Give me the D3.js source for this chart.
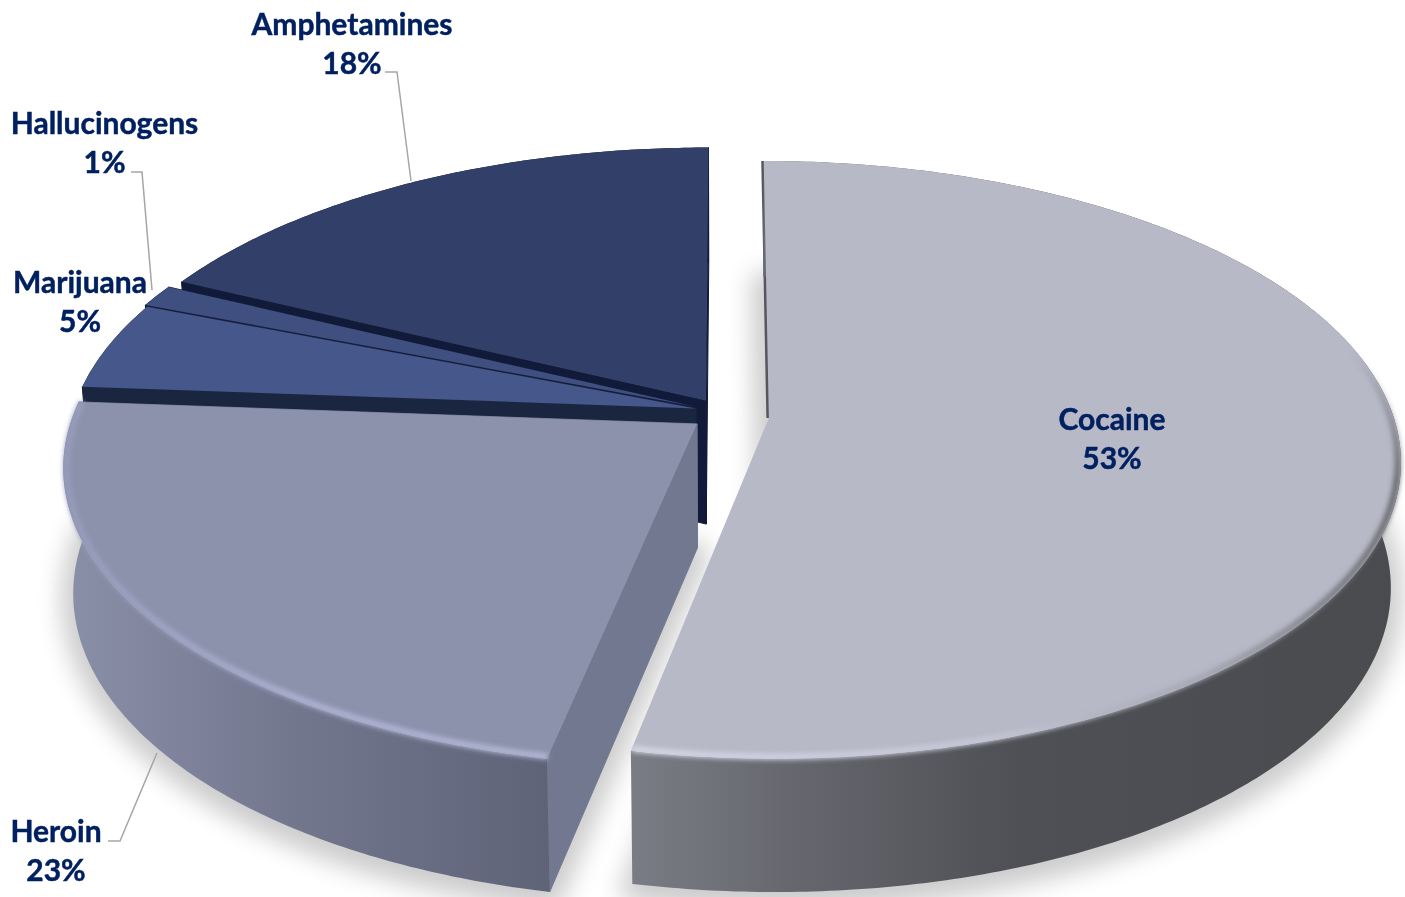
<!DOCTYPE html>
<html><head><meta charset="utf-8">
<script src="https://cdn.jsdelivr.net/npm/d3@7/dist/d3.min.js"></script>
<style>html,body{margin:0;padding:0;background:#fff;overflow:hidden}svg{display:block}
text{font-family:Lato,"Open Sans",sans-serif;font-weight:700;fill:#002060;stroke:#002060;stroke-width:.45px;font-size:30px;text-anchor:middle}</style>
</head><body><script>
// ---- data ----
const categories = ["Cocaine","Heroin","Marijuana","Hallucinogens","Amphetamines"];
const shares = [53.2,23,4.8,1.2,17.8];
// ---- styling / layout (not data) ----
const faceColors = ["#b8b9c7","#8c92ac","#45578b","#3e4f80","#313f69"];
const sideColors = ["#56575c","#727890","#1a2540","#141d3a","#111a38"];
const explodeU = [0.067,-0.048,-0.05,-0.054,-0.034];
const explodeV = [0,-0.02,0.033,0.04,0.06];
const labelX = [1112,56,80,104.5,352];
const labelY = [430,842,293,134,35];
const leaders = [null,[[108,841],[120,841],[157,753]],null,[[131,172],[142,172],[152,290]],[[385,72],[397,72],[411,181]]];
const W=1405,H=897;
const X0=727,Y0=418,A=625,B=293,P=0.14,DEPTH=124,DEPTHP=0.07,SHRINK=0.015;

const svg=d3.select("body").append("svg").attr("width",W).attr("height",H);
const defs=svg.append("defs");
const grad=(id,x1,x2,stops,vertical)=>{const g=defs.append("linearGradient").attr("id",id).attr("gradientUnits","userSpaceOnUse");
  if(vertical) g.attr("x1",0).attr("x2",0).attr("y1",x1).attr("y2",x2);
  else g.attr("x1",x1).attr("x2",x2).attr("y1",0).attr("y2",0);
  stops.forEach(s=>g.append("stop").attr("offset",s[0]).attr("stop-color",s[1]));};
grad("wall0",633,1400,[[0,"#7a7c85"],[.2,"#67686f"],[.5,"#4f5055"],[1,"#4a4b4f"]]);
grad("wall1",62,550,[[0,"#8b90a9"],[.5,"#71768d"],[1,"#5f6378"]]);
grad("bev0",633,1398,[[0,"#d6d8e7"],[.45,"#c6c8d7"],[.75,"#a3a4b0"],[.92,"#76777e"],[1,"#65666b"]]);
grad("bev1",62,550,[[0,"#969cbb"],[.5,"#aeb4d4"],[1,"#b4b9d6"]]);
grad("fade",350,480,[[0,"#000"],[1,"#fff"]],true);
defs.append("mask").attr("id","bevMask").attr("maskUnits","userSpaceOnUse").attr("x",0).attr("y",0).attr("width",W).attr("height",H)
  .append("rect").attr("width",W).attr("height",H).attr("fill","url(#fade)");
defs.append("filter").attr("id","soft").attr("filterUnits","userSpaceOnUse").attr("x",0).attr("y",0).attr("width",W).attr("height",H)
  .append("feGaussianBlur").attr("stdDeviation",12);
defs.append("filter").attr("id","bevel").attr("filterUnits","userSpaceOnUse").attr("x",0).attr("y",0).attr("width",W).attr("height",H)
  .append("feGaussianBlur").attr("stdDeviation",2.4);

const pie=d3.pie().sort(null).value(d=>d)(shares);
const top3=(u,v)=>{const d=1+P*v;return [X0+A*u/d,Y0-B*v/d];};
const base=(u,v)=>{const [x,y]=top3(u,v);return [X0+(x-X0)*(1-SHRINK),y+DEPTH/(1+DEPTHP*v)];};
const line=d3.line();
const rim=(i,a0,a1,f,r=1)=>{const n=Math.max(4,Math.ceil((a1-a0)*90));
  return d3.range(n+1).map(k=>{const a=a0+(a1-a0)*k/n;return f(explodeU[i]+r*Math.sin(a),explodeV[i]+r*Math.cos(a));});};
const apex=(i,f)=>f(explodeU[i],explodeV[i]);

// shadow below the slices
const gShadow=svg.append("g").attr("filter","url(#soft)").attr("opacity",.2);
pie.forEach((p,i)=>{ if(i>1) return;
  gShadow.append("path").attr("fill","#000").attr("stroke","#000").attr("stroke-width",24).attr("stroke-linejoin","round").attr("transform","translate(0,6)")
   .attr("d",line([apex(i,base),...rim(i,p.startAngle,p.endAngle,base)])+"Z");});

// painter's order: back slices first
[4,3,2,1,0].forEach(i=>{
  const p=pie[i],g=svg.append("g").attr("class","slice");
  const wallFill=i<2?`url(#wall${i})`:sideColors[i];
  [p.startAngle,p.endAngle].forEach((a,j)=>{
    const t=rim(i,a,a,top3)[0],b=rim(i,a,a,base)[0];
    const c=sideColors[i];
    if(i===0){ if(j===0) g.append("path").attr("fill","none").attr("stroke",c).attr("stroke-width",5).attr("d",line([apex(i,top3),t])); return; }
    g.append("path").attr("fill",c).attr("stroke",c).attr("stroke-width",1)
      .attr("d",line([apex(i,top3),t,b,apex(i,base)])+"Z");
  });
  g.append("path").attr("fill",wallFill)
    .attr("d",line([...rim(i,p.startAngle,p.endAngle,top3),...rim(i,p.startAngle,p.endAngle,base).reverse()])+"Z");
  g.append("path").attr("fill",faceColors[i])
    .attr("d",line([apex(i,top3),...rim(i,p.startAngle,p.endAngle,top3)])+"Z");
  if(i<2){
    const a0=i===0?70*Math.PI/180:p.startAngle,a1=p.endAngle;
    const b=g.append("path").attr("fill","none").attr("stroke",`url(#bev${i})`).attr("stroke-width",6)
      .attr("filter","url(#bevel)").attr("d",line(rim(i,a0,a1,top3,0.995)));
    if(i===0) b.attr("mask","url(#bevMask)");
  }
});

// leader lines
svg.append("g").selectAll("path").data(leaders.filter(Boolean)).join("path")
  .attr("fill","none").attr("stroke","#a6a6a6").attr("stroke-width",1.5).attr("d",d=>line(d));

// labels
const lab=svg.append("g");
categories.forEach((c,i)=>{
  lab.append("text").attr("x",labelX[i]).attr("y",labelY[i]).text(c);
  lab.append("text").attr("x",labelX[i]).attr("y",labelY[i]+39).text(Math.round(shares[i])+"%");
});
</script></body></html>
